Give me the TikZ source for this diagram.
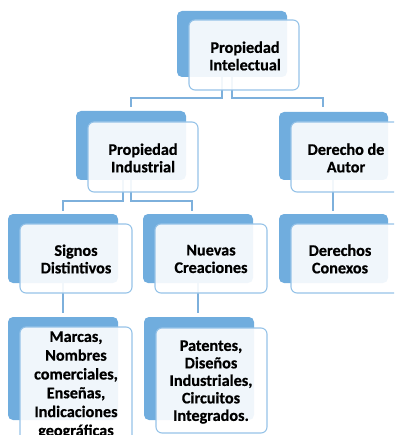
\documentclass[tikz,border=0pt]{standalone}
\usepackage{fontspec}
\setmainfont{Carlito}[BoldFeatures={FakeBold=0.6}]
\definecolor{backblue}{RGB}{112,173,222}
\definecolor{edgeblue}{RGB}{150,195,232}
\definecolor{lineblue}{RGB}{125,176,220}
\begin{document}
\begin{tikzpicture}[x=1pt,y=-1pt,
  backbox/.style={fill=backblue,draw=none,rounded corners=5pt},
  frontbox/.style={fill=white,fill opacity=0.9,draw=edgeblue,line width=1.1pt,rounded corners=6pt},
  lbl/.style={font=\bfseries\fontsize{16.2}{17.5}\selectfont,align=center,text=black,inner sep=0pt},
  conn/.style={draw=lineblue,line width=1.1pt}]
\useasboundingbox (0,0) rectangle (394,435);
\clip (0,0) rectangle (394,435);
% back rectangles
\draw[backbox] (177,11) rectangle (287,77);
\draw[backbox] (76,111) rectangle (186,180);
\draw[backbox] (279,112) rectangle (388,180);
\draw[backbox] (8,214) rectangle (118,283);
\draw[backbox] (143,214) rectangle (253,283);
\draw[backbox] (279,214) rectangle (388,283);
\draw[backbox] (8,317) rectangle (118,420);
\draw[backbox] (144,317) rectangle (254,420);
% named anchor points on the back shapes
\coordinate (topB) at (232,77);
\coordinate (piB) at (131,180);
\coordinate (daB) at (333,180);
\coordinate (sdB) at (63,283);
\coordinate (ncB) at (198,283);
% connectors
\coordinate (c1) at (222,77);
\coordinate (piT) at (131,107);
\coordinate (daT) at (323,107);
\draw[conn] (c1) -- (222,98) -- (131,98) -- (piT);
\draw[conn] (topB) -- (232,98) -- (323,98) -- (daT);
\coordinate (c2) at (123,180);
\coordinate (sdT) at (63,211);
\coordinate (ncT) at (192,211);
\draw[conn] (c2) -- (123,201) -- (63,201) -- (sdT);
\draw[conn] (piB) -- (131,201) -- (192,201) -- (ncT);
\coordinate (dcT) at (333,211);
\draw[conn] (daB) -- (dcT);
\coordinate (maT) at (63,313);
\coordinate (paT) at (198,313);
\draw[conn] (sdB) -- (maT);
\draw[conn] (ncB) -- (paT);
% front boxes
\draw[frontbox] (189,20) rectangle (299,90);
\draw[frontbox] (88,122) rectangle (198,192);
\draw[frontbox] (291,122) rectangle (401,192);
\draw[frontbox] (20,224) rectangle (132,293);
\draw[frontbox] (155,224) rectangle (267,293);
\draw[frontbox] (291,224) rectangle (401,293);
\draw[frontbox] (20,327) rectangle (132,450);
\draw[frontbox] (156,328) rectangle (267,433);
% labels
\node[lbl] (pint) at (245,56) {Propiedad\\Intelectual};
\node[lbl] (pind) at (143,158) {Propiedad\\Industrial};
\node[lbl] (dau) at (346,158) {Derecho de\\Autor};
\node[lbl] (sdi) at (76,259) {Signos\\Distintivos};
\node[lbl] (ncr) at (211,259) {Nuevas\\Creaciones};
\node[lbl] (dco) at (340,259) {Derechos\\Conexos};
\node[lbl,font=\bfseries\fontsize{16.2}{18.8}\selectfont] (mar) at (76,385) {Marcas,\\Nombres\\comerciales,\\Enseñas,\\Indicaciones\\geográficas};
\node[lbl] (pat) at (211,382) {Patentes,\\Diseños\\Industriales,\\Circuitos\\Integrados.};
\end{tikzpicture}
\end{document}
